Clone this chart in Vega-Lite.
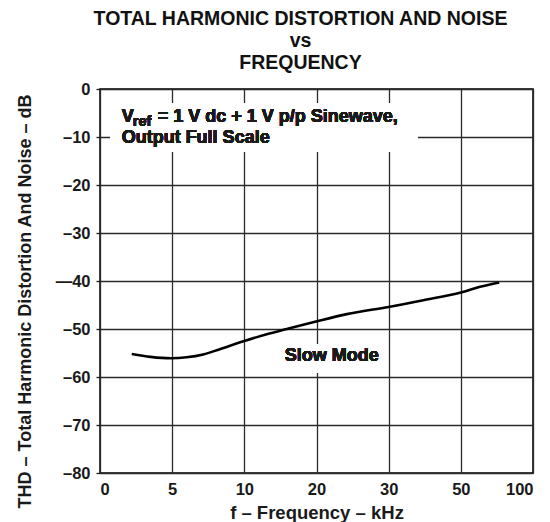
{
  "$schema": "https://vega.github.io/schema/vega-lite/v6.json",
  "width": 433,
  "height": 384,
  "autosize": {"type": "none"},
  "padding": {"left": 100, "top": 89, "right": 17, "bottom": 49},
  "background": "white",
  "config": {
    "font": "Liberation Sans",
    "view": {"stroke": "black", "strokeWidth": 1.5},
    "text": {"strokeWidth": 0},
    "axis": {
      "grid": true,
      "gridColor": "#2a2a2a",
      "gridWidth": 1.3,
      "gridOpacity": 1,
      "domain": false,
      "labelFont": "Liberation Sans",
      "labelFontSize": 16.5,
      "labelFontWeight": "bold",
      "labelColor": "#1a1a1a",
      "titleFont": "Liberation Sans",
      "titleFontSize": 17,
      "titleFontWeight": "bold",
      "titleColor": "#1a1a1a"
    }
  },
  "title": {
    "text": ["TOTAL HARMONIC DISTORTION AND NOISE", "vs", "FREQUENCY"],
    "fontSize": 19.5,
    "fontWeight": "bold",
    "font": "Liberation Sans",
    "color": "#111111",
    "lineHeight": 22,
    "anchor": "middle",
    "dx": -16,
    "offset": 8
  },
  "data": {
    "values": [
      {"f": 2.2, "thd": -55.2},
      {"f": 3.5, "thd": -55.8},
      {"f": 4.9, "thd": -56.1},
      {"f": 6.0, "thd": -55.9},
      {"f": 7.15, "thd": -55.3},
      {"f": 8.3, "thd": -54.2},
      {"f": 10.0, "thd": -52.5},
      {"f": 13.1, "thd": -51.1},
      {"f": 15.9, "thd": -50.0},
      {"f": 19.8, "thd": -48.5},
      {"f": 24.2, "thd": -46.9},
      {"f": 30.0, "thd": -45.4},
      {"f": 39.6, "thd": -44.0},
      {"f": 50.0, "thd": -42.4},
      {"f": 63.3, "thd": -41.2},
      {"f": 76.6, "thd": -40.3}
    ]
  },
  "layer": [
    {
      "mark": {"type": "rect", "fill": "white"},
      "encoding": {
        "x": {"datum": 0.7, "type": "quantitative"},
        "x2": {"datum": 38.1},
        "y": {"datum": -2.9, "type": "quantitative"},
        "y2": {"datum": -13.1}
      }
    },
    {
      "mark": {"type": "rect", "fill": "white"},
      "encoding": {
        "x": {"datum": 15.6, "type": "quantitative"},
        "x2": {"datum": 28.5},
        "y": {"datum": -53.3, "type": "quantitative"},
        "y2": {"datum": -59}
      }
    },
    {
      "mark": {"type": "line", "color": "black", "strokeWidth": 2.6, "interpolate": "monotone"},
      "encoding": {
        "x": {
          "field": "f",
          "type": "quantitative",
          "scale": {
            "domain": [0, 5, 10, 20, 30, 50, 100],
            "range": [0, 72.17, 144.33, 216.5, 288.67, 360.83, 433],
            "nice": false,
            "zero": false
          },
          "axis": {
            "values": [0, 5, 10, 20, 30, 50, 100],
            "title": "f – Frequency – kHz",
            "ticks": false,
            "tickSize": 0,
            "labelPadding": 8,
            "titleFontSize": 18.5,
            "titleY": 39,
            "titleBaseline": "middle"
          }
        },
        "y": {
          "field": "thd",
          "type": "quantitative",
          "scale": {"domain": [-80, 0], "nice": false, "zero": false},
          "axis": {
            "values": [-80, -70, -60, -50, -40, -30, -20, -10, 0],
            "labelExpr": "datum.value == 0 ? '0' : (datum.value == -40 ? '—40' : '–' + abs(datum.value))",
            "title": "THD – Total Harmonic Distortion And Noise – dB",
            "ticks": true,
            "tickSize": 4,
            "tickColor": "#1a1a1a",
            "tickWidth": 1.3,
            "labelPadding": 6,
            "titleFontSize": 18,
            "titleX": -75,
            "titleY": 212,
            "titleAngle": -90,
            "titleAlign": "center",
            "titleBaseline": "middle"
          }
        }
      }
    },
    {
      "mark": {"type": "text", "align": "left", "baseline": "middle", "fontSize": 18, "fontWeight": "bold", "fill": "#1a1a1a"},
      "encoding": {
        "x": {"datum": 1.5, "type": "quantitative"},
        "y": {"datum": -5.83, "type": "quantitative"},
        "text": {"value": "V"}
      }
    },
    {
      "mark": {"type": "text", "align": "left", "baseline": "middle", "fontSize": 14.5, "fontWeight": "bold", "fill": "#1a1a1a"},
      "encoding": {
        "x": {"datum": 2.27, "type": "quantitative"},
        "y": {"datum": -6.8, "type": "quantitative"},
        "text": {"value": "ref"}
      }
    },
    {
      "mark": {"type": "text", "align": "left", "baseline": "middle", "fontSize": 18, "fontWeight": "bold", "fill": "#1a1a1a"},
      "encoding": {
        "x": {"datum": 4.0, "type": "quantitative"},
        "y": {"datum": -5.83, "type": "quantitative"},
        "text": {"value": "= 1 V dc + 1 V p/p Sinewave,"}
      }
    },
    {
      "mark": {"type": "text", "align": "left", "baseline": "middle", "fontSize": 18, "fontWeight": "bold", "fill": "#1a1a1a"},
      "encoding": {
        "x": {"datum": 1.5, "type": "quantitative"},
        "y": {"datum": -10.2, "type": "quantitative"},
        "text": {"value": "Output Full Scale"}
      }
    },
    {
      "mark": {"type": "text", "align": "center", "baseline": "middle", "fontSize": 18, "fontWeight": "bold", "fill": "#1a1a1a"},
      "encoding": {
        "x": {"datum": 22.1, "type": "quantitative"},
        "y": {"datum": -55.6, "type": "quantitative"},
        "text": {"value": "Slow Mode"}
      }
    }
  ]
}
